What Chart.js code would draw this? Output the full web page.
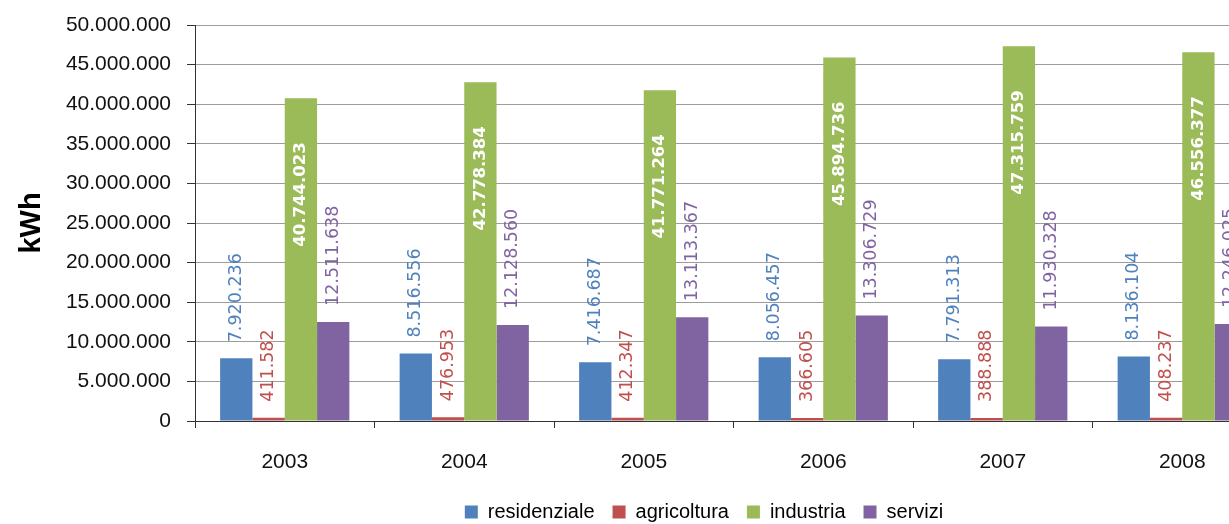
<!DOCTYPE html>
<html>
<head>
<meta charset="utf-8">
<script src="https://cdn.jsdelivr.net/npm/chart.js@4.4.1/dist/chart.umd.min.js"></script>
<style>
html, body { margin: 0; padding: 0; background: #fff; overflow: hidden; }
#wrap { width: 1229px; height: 524px; overflow: hidden; position: relative; }
</style>
</head>
<body>
<div id="wrap">
<canvas id="energyChart" width="1408" height="532"></canvas>
</div>
<script>
const years = ["2003", "2004", "2005", "2006", "2007", "2008"];

const residenziale = [7920236, 8516556, 7416687, 8056457, 7791313, 8136104];
const agricoltura = [411582, 476953, 412347, 366605, 388888, 408237];
const industria = [40744023, 42778384, 41771264, 45894736, 47315759, 46556377];
const servizi = [12511638, 12128560, 13113367, 13306729, 11930328, 12246025];

const SANS = "'Liberation Sans', Arial, sans-serif";

function dots(v) {
return String(v).replace(/\B(?=(\d{3})+(?!\d))/g, ".");
}

/* rotated value labels, like the excel ones */

const valueLabels = {
id: "valueLabels",
afterDatasetsDraw(chart) {
const ctx = chart.ctx;
chart.data.datasets.forEach((ds, i) => {
const meta = chart.getDatasetMeta(i);
meta.data.forEach((bar, j) => {
const txt = dots(ds.data[j]);
ctx.save();
if (ds.inside) {
ctx.translate(bar.x, bar.y + 44);
ctx.rotate(-Math.PI / 2);
ctx.font = "bold 16.5px 'DejaVu Sans', Verdana, sans-serif";
ctx.fillStyle = "#ffffff";
ctx.textAlign = "right";
} else {
ctx.translate(bar.x, bar.y - 16);
ctx.rotate(-Math.PI / 2);
ctx.font = "17.5px 'DejaVu Sans', Verdana, sans-serif";
ctx.fillStyle = ds.backgroundColor;
ctx.textAlign = "left";
}
ctx.textBaseline = "middle";
ctx.fillText(txt, 0, 0);
ctx.restore();
});
});
}
};

new Chart(document.getElementById("energyChart"), {

type: "bar",

data: {
labels: years,
datasets: [
{ label: "residenziale", data: residenziale, backgroundColor: "#4F81BD" },
{ label: "agricoltura", data: agricoltura, backgroundColor: "#C0504D" },
{ label: "industria", data: industria, backgroundColor: "#9BBB59", inside: true },
{ label: "servizi", data: servizi, backgroundColor: "#8064A2" }
]
},

options: {
responsive: false,
animation: false,
devicePixelRatio: 1,
categoryPercentage: 0.72,
barPercentage: 1,

layout: {
padding: { top: 25, left: 0, right: 0, bottom: 0 }
},

plugins: {
tooltip: { enabled: false },
legend: {
display: true,
position: "bottom",
labels: {
boxWidth: 13,
boxHeight: 13,
padding: 18,
color: "#000",
font: { family: SANS, size: 20 }
}
}
},

scales: {

x: {
afterFit(scale) { scale.height = 63; },
grid: {
drawOnChartArea: false,
tickLength: 7,
tickColor: "#333"
},
border: { color: "#333" },
ticks: {
color: "#111",
padding: 23,
font: { family: SANS, size: 21, lineHeight: 1.08 }
}
},

y: {
min: 0,
max: 50000000,
afterFit(scale) {
scale.width = 195;
scale.paddingTop = 0;
},
ticks: {
stepSize: 5000000,
color: "#111",
padding: 16,
font: { family: SANS, size: 21 },
callback: v => dots(v)
},
grid: {
color: "#9c9c9c",
tickLength: 8,
tickColor: "#333"
},
border: { color: "#333" },
title: {
display: true,
text: "kWh",
color: "#000",
padding: { top: 15, bottom: 0 },
font: { family: SANS, size: 29, weight: "bold" }
}
},

/* empty box on the right so the legend sits where the original had it */
yR: {
position: "right",
display: true,
afterFit(scale) {
scale.width = 136;
scale.paddingTop = 0;
},
grid: { display: false },
border: { display: false },
ticks: { display: false }
}

}

},

plugins: [valueLabels]

});
</script>
</body>
</html>
